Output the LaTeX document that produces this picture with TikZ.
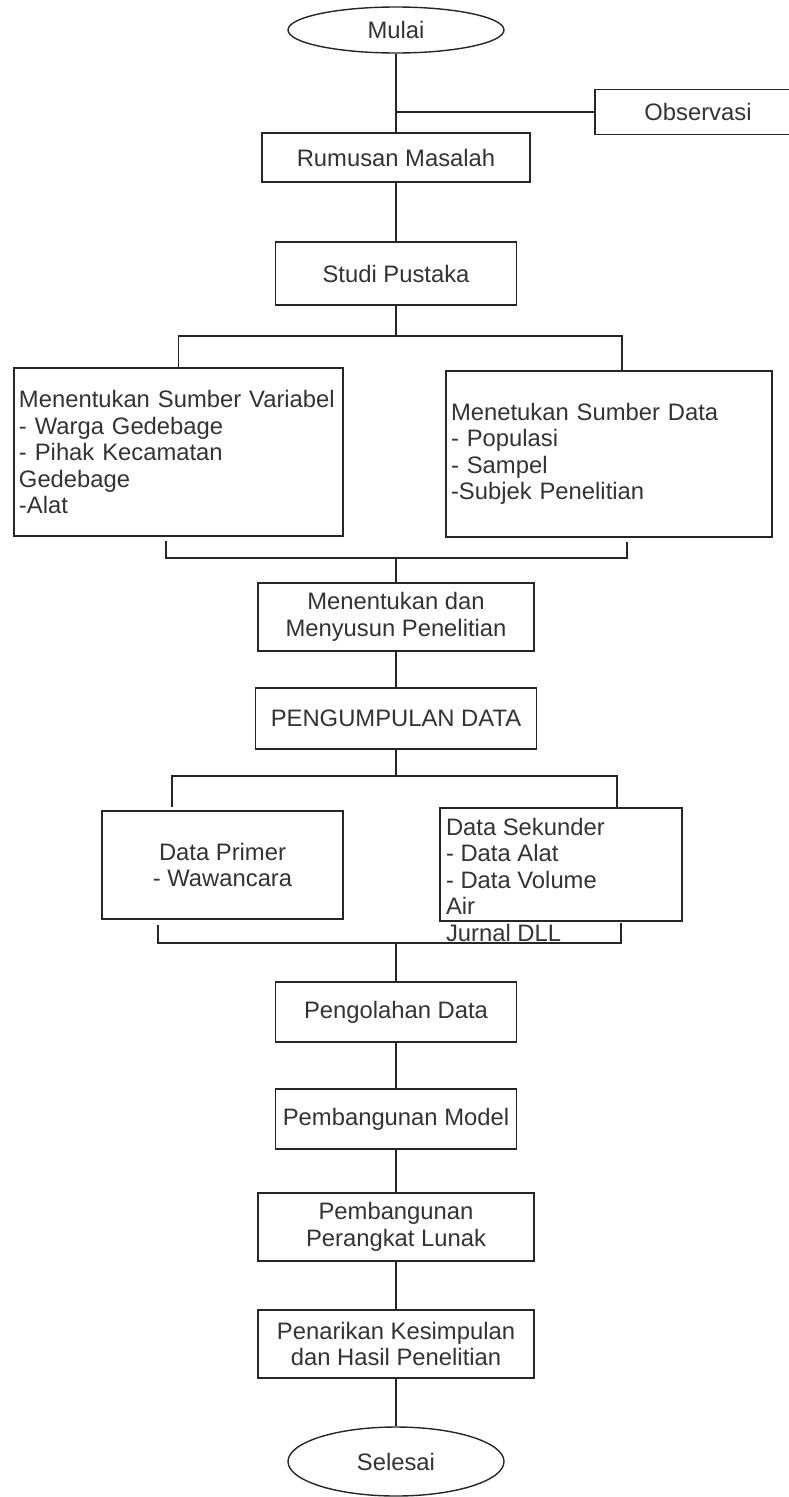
\documentclass[tikz,border=0pt]{standalone}
\usepackage{fontspec}
\setmainfont{Liberation Sans}
\usepackage{tikz}
\usetikzlibrary{positioning, shapes.geometric}

\begin{document}
\begin{tikzpicture}[
        x=1pt, y=-1pt,
        every node/.style={font=\fontsize{23.8}{26.5}\selectfont, text=black!80, inner sep=5pt},
        box/.style={rectangle, draw=black!85, align=center},
        list/.style={rectangle, draw=black!85, align=left},
        terminal/.style={ellipse, draw=black!85, minimum width=216pt, inner sep=0pt},
        line width=1.4pt,
        draw=black!85
    ]

    \useasboundingbox (0,0) rectangle (789,1497);
    \clip (0,0) rectangle (789,1497);

    % Start and observation
    \node[terminal, minimum height=46pt] (mulai) at (396, 30) {Mulai};
    \node[box, minimum width=206pt, minimum height=45pt] (obs) at (698, 112) {Observasi};

    % Problem and literature
    \node[box, minimum width=268pt, minimum height=49pt] (rumusan) at (396, 157.5) {Rumusan Masalah};
    \node[box, minimum width=241pt, minimum height=63pt] (studi) at (396, 273.5) {Studi Pustaka};

    % Sources
    \node[list, text width=319pt, minimum height=168pt] (variabel) at (178.5, 452)
        {\mbox{Menentukan Sumber Variabel}\\- Warga Gedebage\\- Pihak Kecamatan\\Gedebage\\-Alat};
    \node[list, text width=316pt, minimum height=166pt] (sumber) at (609, 454)
        {\mbox{Menetukan Sumber Data}\\- Populasi\\- Sampel\\-Subjek Penelitian};

    \node[box, minimum width=276pt, minimum height=68pt] (susun) at (396, 617) {Menentukan dan\\Menyusun Penelitian};
    \node[box, minimum width=281pt, minimum height=61pt] (kumpul) at (396, 718.5) {PENGUMPULAN DATA};

    % Data
    \node[box, minimum width=241pt, minimum height=108pt] (primer) at (222.5, 865) {Data Primer\\- Wawancara};
    \node[box, minimum width=242pt, minimum height=113pt] (sekunder) at (561, 864.5) {};
    \node[anchor=north west, inner sep=0pt, align=left] (sekundertxt) at ([shift={(6,10)}]sekunder.north west)
        {Data Sekunder\\- Data Alat\\- Data Volume\\Air\\Jurnal DLL};

    % Processing to end
    \node[box, minimum width=241pt, minimum height=60pt] (olah) at (396, 1012) {Pengolahan Data};
    \node[box, minimum width=241pt, minimum height=60pt] (model) at (396, 1119) {Pembangunan Model};
    \node[box, minimum width=276pt, minimum height=68pt] (lunak) at (396, 1227) {Pembangunan\\Perangkat Lunak};
    \node[box, minimum width=276pt, minimum height=68pt] (tarik) at (396, 1344) {Penarikan Kesimpulan\\dan Hasil Penelitian};
    \node[terminal, minimum height=69pt] (selesai) at (396, 1461.5) {Selesai};

    % Junctions
    \coordinate (obsjoin) at (mulai.south |- obs.west);
    \coordinate (split1) at (396, 336);
    \coordinate (join1) at (396, 558);
    \coordinate (split2) at (396, 776);
    \coordinate (join2) at (396, 943);

    % Main line
    \draw (mulai) -- (rumusan);
    \draw (obsjoin) -- (obs);
    \draw (rumusan) -- (studi);
    \draw (studi) -- (split1);

    % Split to sources and back
    \draw (variabel.north) |- (split1) -| ([xshift=13pt]sumber.north);
    \draw ([xshift=-12.5pt, yshift=-4pt]variabel.south) |- (join1) -| ([xshift=18pt, yshift=-4pt]sumber.south);
    \draw (join1) -- (susun);
    \draw (susun) -- (kumpul);

    % Split to data and back
    \draw (kumpul) -- (split2);
    \draw ([xshift=-50.5pt, yshift=3pt]primer.north) |- (split2) -| ([xshift=56pt]sekunder.north);
    \draw ([xshift=-64.5pt, yshift=-5pt]primer.south) |- (join2) -| ([xshift=60pt, yshift=-1pt]sekunder.south);
    \draw (join2) -- (olah);

    \draw (olah) -- (model);
    \draw (model) -- (lunak);
    \draw (lunak) -- (tarik);
    \draw (tarik) -- (selesai);

\end{tikzpicture}
\end{document}
